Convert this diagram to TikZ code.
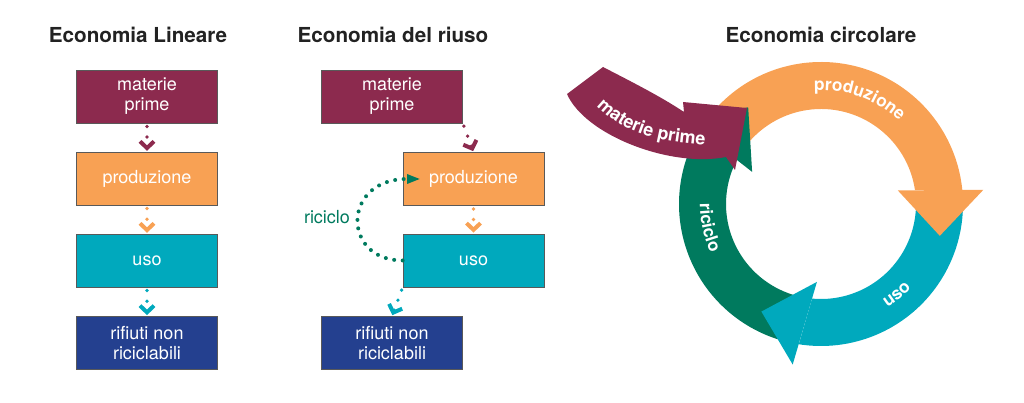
\documentclass[tikz,border=0pt]{standalone}
\usepackage{fontspec}
\setmainfont{TeX Gyre Heros}
\usepackage{tikz}
\usetikzlibrary{arrows.meta, decorations.text}
\definecolor{materia}{RGB}{140,42,78}
\definecolor{produz}{RGB}{248,161,84}
\definecolor{usocol}{RGB}{0,169,189}
\definecolor{rifiuti}{RGB}{36,64,143}
\definecolor{ricicl}{RGB}{0,122,94}
\definecolor{titolo}{RGB}{34,34,34}
\newcommand{\ringfont}{\bfseries\fontsize{13}{13}\selectfont}
\newcommand{\mpfont}{\bfseries\fontsize{13.5}{13.5}\selectfont}
\tikzset{
  box/.style={draw=black!65, line width=0.5pt, fill=#1, text=white,
    minimum width=105.75pt, minimum height=39.75pt, inner sep=0pt,
    align=center, font=\fontsize{13.5}{15}\selectfont},
  title/.style={text=titolo, anchor=base, font=\bfseries\fontsize{15.5}{17}\selectfont},
  flow/.style={draw=#1, line width=2.8pt, line cap=round,
    dash pattern=on 0pt off 8pt, shorten <=2.3pt, shorten >=0.8pt,
    -{Straight Barb[length=5pt, width=10.5pt, line width=3pt]}},
  loopflow/.style={draw=ricicl, line width=3pt, line cap=round,
    dash pattern=on 0pt off 6.4pt,
    -{Triangle[length=9.5pt, width=7.5pt, line width=0pt]}},
  ringtext/.style={decorate, decoration={text along path, text={|\ringfont|#1},
    text align=center, text color=white}}
}

\begin{document}
\begin{tikzpicture}[x=0.75pt, y=0.75pt]
  \useasboundingbox (0,0) rectangle (1024,403);

  \node[title] (tlin) at (138,360) {Economia Lineare};
  \node[title] (triu) at (393,360) {Economia del riuso};
  \node[title] (tcirc) at (821,360) {Economia circolare};

  % economia lineare
  \node[box=materia] (mp1) at (147,306.5) {materie\\prime};
  \node[box=produz] (pr1) at (147,224.3) {produzione};
  \node[box=usocol] (uso1) at (147,142.3) {uso};
  \node[box=rifiuti] (rf1) at (147,60) {rifiuti non\\riciclabili};
  \draw[flow=materia] (mp1) -- (pr1);
  \draw[flow=produz] (pr1) -- (uso1);
  \draw[flow=usocol] (uso1) -- (rf1);

  % economia del riuso
  \node[box=materia] (mp2) at (392,306.5) {materie\\prime};
  \node[box=produz] (pr2) at (473.5,224) {produzione};
  \node[box=usocol] (uso2) at (473.5,142.5) {uso};
  \node[box=rifiuti] (rf2) at (392,60) {rifiuti non\\riciclabili};
  \draw[flow=materia] (mp2.south east) -- (pr2.north);
  \draw[flow=produz] (pr2) -- (uso2);
  \draw[flow=usocol] (uso2.south west) -- (rf2.north);
  \draw[loopflow] (uso2.west) .. controls +(-61,0) and +(-78,0) .. ([xshift=12.75pt]pr2.west);
  \node[text=ricicl, font=\fontsize{13.5}{15}\selectfont] (riclab) at (327,186) {riciclo};

  % economia circolare
  \begin{scope}[shift={(821,199)}]
    \fill[produz] (140:142) arc[start angle=140, end angle=5.7, radius=142]
      -- (8.4:95) arc[start angle=8.4, end angle=140, radius=95] -- cycle;
    \fill[usocol] (3:142) arc[start angle=3, end angle=-99, radius=142]
      -- (-95.4:95) arc[start angle=-95.4, end angle=3, radius=95] -- cycle;
    \fill[ricicl] (-101:142) arc[start angle=-101, end angle=-211.1, radius=142]
      -- (-207.6:95) arc[start angle=-207.6, end angle=-101, radius=95] -- cycle;
    \fill[produz] (10:78) -- (5:163) -- (-15:123) -- cycle;
    \fill[usocol] (-93:78) -- (-100:163) -- (-119:123) -- cycle;
    \fill[ricicl] (155:76) -- (148:163) -- (127:121) -- cycle;
    \path[ringtext=produzione] (102:114) arc[start angle=102, end angle=38, radius=114];
    \path[ringtext=uso] (-72:123) arc[start angle=-72, end angle=-28, radius=123];
    \path[ringtext=riciclo] (165:121) arc[start angle=165, end angle=219, radius=121];
  \end{scope}
  \fill[materia] (567,309) -- (603,336) .. controls (630,322) and (660,307) .. (684,291)
    -- (683,301) -- (747,295) -- (735,233) -- (726,246)
    .. controls (670,235) and (585,268) .. (567,309) -- cycle;
  \path[decorate, decoration={text along path, text={|\mpfont|materie prime},
    text align=center, text color=white}]
    (592,302) .. controls (615,275) and (650,260) .. (712,258);
\end{tikzpicture}
\end{document}
